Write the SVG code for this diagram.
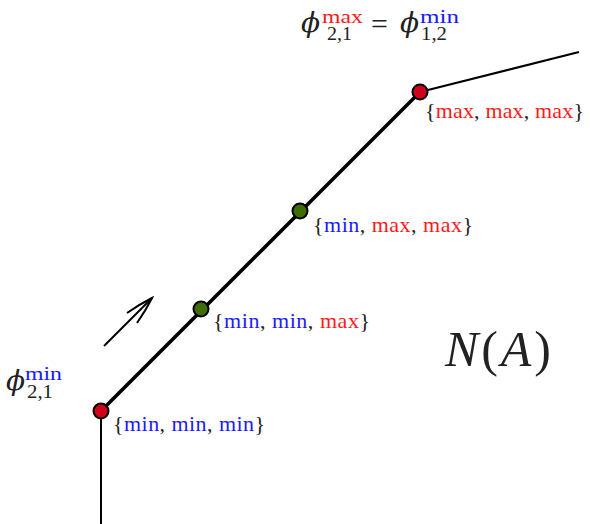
<svg xmlns="http://www.w3.org/2000/svg" width="590" height="524" viewBox="0 0 590 524">
<style>
.t{font-family:"Liberation Serif","DejaVu Serif",serif;fill:#222}
.ph{font-family:"DejaVu Serif",serif;font-style:italic;fill:#222}
.lbl{font-size:22px}
.r{fill:#ff1a1a}
.b{fill:#1a1aff}
.k{fill:#222}
.it{font-style:italic}
.thin{stroke:#000;stroke-width:2;fill:none}
.thick{stroke:#000;stroke-width:3.6;fill:none}
.red{fill:#d0021b;stroke:#000;stroke-width:2}
.grn{fill:#3f6e00;stroke:#000;stroke-width:2}
</style>
<rect width="590" height="524" fill="#fff"/>
<g id="connectors">
<line class="thin" x1="101" y1="411" x2="101" y2="524"/>
<line class="thin" x1="420" y1="92" x2="579" y2="52"/>
<line class="thick" x1="101" y1="411" x2="420" y2="92"/>
<g id="arrow">
<line class="thin" x1="104" y1="346" x2="152" y2="298" stroke-width="1.8"/>
<path class="thin" stroke-width="1.8" d="M127,313 Q140,304 152,298 Q146,310 137,323"/>
</g>
</g>
<g id="n1">
<circle class="red" cx="101" cy="411" r="7.5"/>
<text class="t lbl" x="113" y="431" textLength="152" lengthAdjust="spacing"><tspan class="k">{</tspan><tspan class="b">min</tspan><tspan class="k">, </tspan><tspan class="b">min</tspan><tspan class="k">, </tspan><tspan class="b">min</tspan><tspan class="k">}</tspan></text>
</g>
<g id="n2">
<circle class="grn" cx="201" cy="309" r="7.5"/>
<text class="t lbl" x="213" y="328" textLength="157" lengthAdjust="spacing"><tspan class="k">{</tspan><tspan class="b">min</tspan><tspan class="k">, </tspan><tspan class="b">min</tspan><tspan class="k">, </tspan><tspan class="r">max</tspan><tspan class="k">}</tspan></text>
</g>
<g id="n3">
<circle class="grn" cx="300" cy="211" r="7.5"/>
<text class="t lbl" x="313" y="232" textLength="160" lengthAdjust="spacing"><tspan class="k">{</tspan><tspan class="b">min</tspan><tspan class="k">, </tspan><tspan class="r">max</tspan><tspan class="k">, </tspan><tspan class="r">max</tspan><tspan class="k">}</tspan></text>
</g>
<g id="n4">
<circle class="red" cx="420" cy="92" r="7.5"/>
<text class="t lbl" x="425" y="118" textLength="159" lengthAdjust="spacing"><tspan class="k">{</tspan><tspan class="r">max</tspan><tspan class="k">, </tspan><tspan class="r">max</tspan><tspan class="k">, </tspan><tspan class="r">max</tspan><tspan class="k">}</tspan></text>
</g>
<g id="label-top">
<text class="ph" x="301" y="32" font-size="28">ϕ</text>
<text class="t r" x="322" y="23" font-size="19" textLength="41" lengthAdjust="spacingAndGlyphs">max</text>
<text class="t" x="327" y="40" font-size="19" textLength="25" lengthAdjust="spacingAndGlyphs">2,1</text>
<text class="t" x="371" y="34" font-size="30">=</text>
<text class="ph" x="400" y="32" font-size="28">ϕ</text>
<text class="t b" x="420" y="23" font-size="19" textLength="39" lengthAdjust="spacingAndGlyphs">min</text>
<text class="t" x="421" y="40" font-size="19" textLength="26" lengthAdjust="spacingAndGlyphs">1,2</text>
</g>
<g id="label-left">
<text class="ph" x="6" y="390" font-size="28">ϕ</text>
<text class="t b" x="25" y="380" font-size="19" textLength="37" lengthAdjust="spacingAndGlyphs">min</text>
<text class="t" x="27" y="398" font-size="19" textLength="26" lengthAdjust="spacingAndGlyphs">2,1</text>
</g>
<g id="label-NA">
<text class="t" x="445" y="366" font-size="50" textLength="106" lengthAdjust="spacing"><tspan class="it">N</tspan>(<tspan class="it">A</tspan>)</text>
</g>
</svg>
